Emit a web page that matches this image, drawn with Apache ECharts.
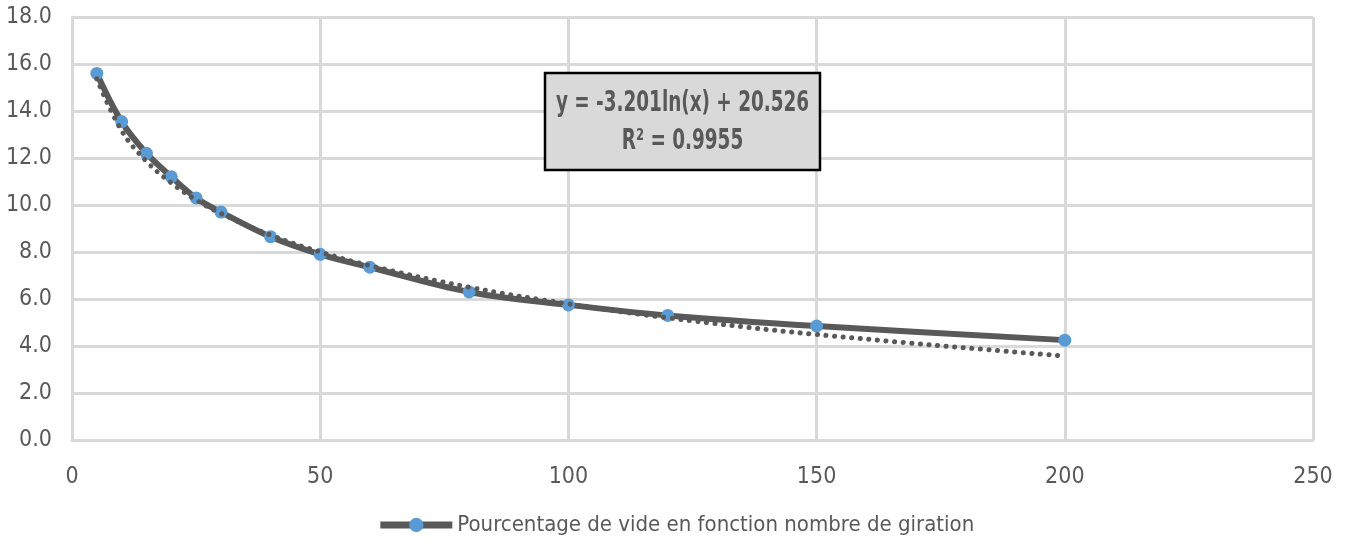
<!DOCTYPE html>
<html>
<head>
<meta charset="utf-8">
<script src="https://cdn.jsdelivr.net/npm/echarts@6/dist/echarts.min.js"></script>
<style>
  html, body { margin: 0; padding: 0; background: #fff; }
  #chart { width: 1351px; height: 547px; }
</style>
</head>
<body>
<div id="chart"></div>
<script>
// Number of gyrations and the measured void percentage
const girations = [5, 10, 15, 20, 25, 30, 40, 50, 60, 80, 100, 120, 150, 200];
const vide = [15.6, 13.55, 12.2, 11.2, 10.3, 9.7, 8.65, 7.9, 7.35, 6.3, 5.75, 5.3, 4.85, 4.25];

// Logarithmic trend line values at the same abscissas
const tendance = [15.37, 13.16, 11.86, 10.94, 10.22, 9.64, 8.72, 8.0, 7.42, 6.5, 5.79, 5.2, 4.49, 3.57];

const seriesName = 'Pourcentage de vide en fonction nombre de giration';
const equationText = 'y = -3.201ln(x) + 20.526';
const r2Text = 'R² = 0.9955';

const FONT = "'Liberation Sans Narrow', 'DejaVu Sans Condensed', 'Liberation Sans', sans-serif";
const GRAY = '#595959';
const GRID = '#d9d9d9';
const BLUE = '#5b9bd5';

const chart = echarts.init(document.getElementById('chart'), null, { renderer: 'canvas' });

chart.setOption({
  animation: false,
  backgroundColor: '#fff',
  textStyle: { fontFamily: FONT },
  grid: { left: 72, right: 38, top: 17, bottom: 107, containLabel: false },
  xAxis: {
    type: 'value', min: 0, max: 250, interval: 50,
    axisLine: { show: true, lineStyle: { color: GRID, width: 3 } },
    axisTick: { show: false },
    splitLine: { show: true, lineStyle: { color: GRID, width: 3 } },
    axisLabel: { color: GRAY, fontSize: 23, fontFamily: FONT, margin: 26 }
  },
  yAxis: {
    type: 'value', min: 0, max: 18, interval: 2,
    axisLine: { show: true, lineStyle: { color: GRID, width: 3 } },
    axisTick: { show: false },
    splitLine: { show: true, lineStyle: { color: GRID, width: 3 } },
    axisLabel: {
      color: GRAY, fontSize: 23, fontFamily: FONT, margin: 20,
      formatter: v => v.toFixed(1)
    }
  },
  legend: {
    bottom: 6, left: 'center',
    itemWidth: 72, itemHeight: 18, itemGap: 6,
    textStyle: { color: GRAY, fontSize: 22, fontFamily: FONT },
    lineStyle: { color: GRAY, width: 7 },
    itemStyle: { color: BLUE },
    data: [seriesName]
  },
  series: [
    {
      name: seriesName,
      type: 'line',
      smooth: 0.35,
      data: girations.map((x, i) => [x, vide[i]]),
      lineStyle: { color: GRAY, width: 6 },
      itemStyle: { color: BLUE, borderWidth: 0 },
      symbol: 'circle', symbolSize: 13,
      z: 3
    },
    {
      name: 'Tendance',
      type: 'line',
      smooth: 0.4,
      data: girations.map((x, i) => [x, tendance[i]]),
      lineStyle: { color: GRAY, width: 5, type: [0.1, 8.5], cap: 'round' },
      symbol: 'none',
      z: 4
    }
  ],
  graphic: [
    {
      type: 'rect', z: 10,
      shape: { x: 545, y: 73, width: 275, height: 97 },
      style: { fill: '#d9d9d9', stroke: '#000', lineWidth: 2.5 }
    },
    {
      type: 'text', z: 11, x: 682.5, y: 104, scaleX: 0.73,
      style: {
        text: equationText, fill: GRAY, font: 'bold 28px ' + FONT,
        align: 'center', verticalAlign: 'middle'
      }
    },
    {
      type: 'text', z: 11, x: 682.5, y: 142, scaleX: 0.73,
      style: {
        text: r2Text, fill: GRAY, font: 'bold 28px ' + FONT,
        align: 'center', verticalAlign: 'middle'
      }
    }
  ]
});
</script>
</body>
</html>
